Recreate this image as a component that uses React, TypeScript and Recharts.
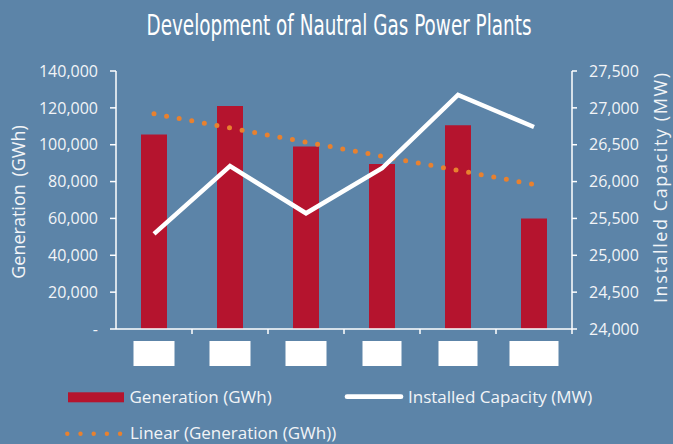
import React from "react";
import {
  ComposedChart,
  Bar,
  Line,
  XAxis,
  YAxis,
  Legend,
} from "recharts";

// ---- data ----
const categories = ["2011", "2012", "2013", "2014", "2015", "2016"];
const generationGWh = [105500, 121000, 99000, 89500, 110500, 60000];
const installedCapacityMW = [25290, 26210, 25570, 26180, 27175, 26740];
const leftTicks = [0, 20000, 40000, 60000, 80000, 100000, 120000, 140000];
const rightTicks = [24000, 24500, 25000, 25500, 26000, 26500, 27000, 27500];

// style constants (not data)
const BG = "#5C84A8";
const RED = "#B5142E";
const ORANGE = "#E8812F";
const WHITE = "#FFFFFF";
const TEXT = "#F2F4F7";
const FONT = "'Open Sans', 'Noto Sans', sans-serif";
const labelBoxWidths = [41, 41, 41, 39, 39, 49];

// linear trend (least squares) of the generation series, as Excel's "Linear" trendline
const n = generationGWh.length;
const meanX = (n - 1) / 2;
const meanY = generationGWh.reduce((a, b) => a + b, 0) / n;
let sxy = 0;
let sxx = 0;
generationGWh.forEach((v, i) => {
  sxy += (i - meanX) * (v - meanY);
  sxx += (i - meanX) * (i - meanX);
});
const slope = sxy / sxx;
const intercept = meanY - slope * meanX;

const data = categories.map((name, i) => ({
  name,
  generation: generationGWh[i],
  capacity: installedCapacityMW[i],
  trend: intercept + slope * i,
}));

const fmt = (v: number) => (v === 0 ? "-" : v.toLocaleString("en-US"));

const CategoryTick = (props: any) => {
  const { x, y, payload, index } = props;
  const off = payload && typeof payload.offset === "number" && payload.offset > 0 ? payload.offset : 38;
  const w = labelBoxWidths[index] ?? 41;
  const isLast = index === categories.length - 1;
  return (
    <g>
      {index > 0 && (
        <line x1={x - off} x2={x - off} y1={y} y2={y + 5} stroke={WHITE} strokeWidth={1.5} />
      )}
      {isLast && (
        <line x1={x + off} x2={x + off} y1={y} y2={y + 5} stroke={WHITE} strokeWidth={1.5} />
      )}
      <rect x={x - w / 2} y={y + 12} width={w} height={25} fill={WHITE} />
    </g>
  );
};

const LeftTitle = (props: any) => {
  const vb = props.viewBox || { x: 0, y: 71, width: 116, height: 258 };
  const cx = 25;
  const cy = vb.y + vb.height / 2 + 2;
  return (
    <text
      x={cx}
      y={cy}
      transform={`rotate(-90, ${cx}, ${cy})`}
      textAnchor="middle"
      fill={TEXT}
      fontSize={18}
      fontFamily={FONT}
      style={{ wordSpacing: "3px" }}
    >
      Generation (GWh)
    </text>
  );
};

const RightTitle = (props: any) => {
  const vb = props.viewBox || { x: 572, y: 71, width: 101, height: 258 };
  const cx = 667;
  const cy = vb.y + vb.height / 2 - 12;
  return (
    <text
      x={cx}
      y={cy}
      transform={`rotate(-90, ${cx}, ${cy})`}
      textAnchor="middle"
      fill={TEXT}
      fontSize={18}
      fontFamily={FONT}
      textLength={230}
      lengthAdjust="spacing"
    >
      Installed Capacity (MW)
    </text>
  );
};

const LegendContent = () => (
  <svg width={673} height={59} style={{ display: "block" }}>
    <rect x={68} y={7.3} width={56} height={10} fill={RED} />
    <text x={129.5} y={18.3} fill={TEXT} fontSize={17} fontFamily={FONT}>
      Generation (GWh)
    </text>
    <line x1={347} x2={401} y1={11.7} y2={11.7} stroke={WHITE} strokeWidth={4.7} strokeLinecap="round" />
    <text x={408} y={18.3} fill={TEXT} fontSize={17} fontFamily={FONT}>
      Installed Capacity (MW)
    </text>
    {[0, 1, 2, 3, 4].map((i) => (
      <circle key={i} cx={67.3 + 13.2 * i} cy={48.7} r={2.2} fill={ORANGE} />
    ))}
    <text x={130} y={53.7} fill={TEXT} fontSize={17} fontFamily={FONT}>
      Linear (Generation (GWh))
    </text>
  </svg>
);

export default function App() {
  return (
    <div style={{ position: "absolute", left: 0, top: 0, width: 673, height: 444, background: BG }}>
      <ComposedChart
        width={673}
        height={444}
        data={data}
        margin={{ top: 71, right: 0, bottom: 75, left: 0 }}
        style={{ background: BG }}
      >
        <text
          x={339}
          y={35.3}
          textAnchor="middle"
          fill={WHITE}
          fontSize={28}
          fontFamily="'Liberation Sans Narrow', 'DejaVu Sans Condensed', 'Open Sans', sans-serif"
          textLength={385}
          lengthAdjust="spacingAndGlyphs"
        >
          Development of Nautral Gas Power Plants
        </text>
        <XAxis
          dataKey="name"
          xAxisId="cat"
          height={40}
          axisLine={{ stroke: WHITE, strokeWidth: 1.5 }}
          tickLine={false}
          tickSize={0}
          tickMargin={0}
          interval={0}
          tick={<CategoryTick />}
        />
        <YAxis
          yAxisId="left"
          orientation="left"
          width={116}
          domain={[0, 140000]}
          ticks={leftTicks}
          interval={0}
          tickFormatter={fmt}
          axisLine={{ stroke: WHITE, strokeWidth: 1.5 }}
          tickLine={{ stroke: WHITE, strokeWidth: 1.5 }}
          tickSize={6}
          tickMargin={12}
          tick={{ fill: TEXT, fontSize: 16, fontFamily: FONT }}
          label={<LeftTitle />}
        />
        <YAxis
          yAxisId="right"
          orientation="right"
          width={101}
          domain={[24000, 27500]}
          ticks={rightTicks}
          interval={0}
          tickFormatter={fmt}
          axisLine={{ stroke: WHITE, strokeWidth: 1.5 }}
          tickLine={{ stroke: WHITE, strokeWidth: 1.5 }}
          tickSize={5}
          tickMargin={12}
          tick={{ fill: TEXT, fontSize: 16, fontFamily: FONT }}
          label={<RightTitle />}
        />
        <Bar
          xAxisId="cat"
          yAxisId="left"
          dataKey="generation"
          name="Generation (GWh)"
          fill={RED}
          barSize={26}
          isAnimationActive={false}
        />
        <Line
          xAxisId="cat"
          yAxisId="left"
          type="linear"
          dataKey="trend"
          name="Linear (Generation (GWh))"
          stroke={ORANGE}
          strokeWidth={5}
          strokeDasharray="0 12.8"
          strokeLinecap="round"
          dot={false}
          activeDot={false}
          isAnimationActive={false}
        />
        <Line
          xAxisId="cat"
          yAxisId="right"
          type="linear"
          dataKey="capacity"
          name="Installed Capacity (MW)"
          stroke={WHITE}
          strokeWidth={4.5}
          dot={false}
          activeDot={false}
          isAnimationActive={false}
        />
        <Legend
          layout="horizontal"
          verticalAlign="middle"
          align="center"
          wrapperStyle={{ left: 0, top: 385, width: 673, height: 59 }}
          content={<LegendContent />}
        />
      </ComposedChart>
    </div>
  );
}
